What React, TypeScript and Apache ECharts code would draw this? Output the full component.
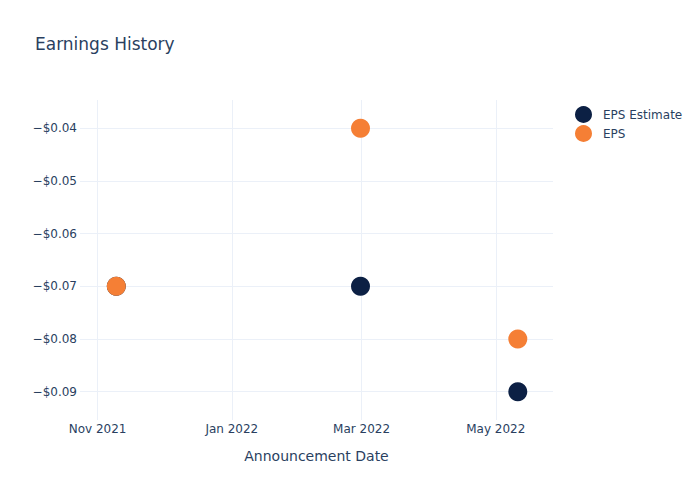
import React, { useEffect, useRef } from "react";
import * as echarts from "echarts";

const dates = ["2021-11-09T12:00", "2022-02-28T12:00", "2022-05-11T00:00"];
const epsEstimate = [-0.07, -0.07, -0.09];
const eps = [-0.07, -0.04, -0.08];
const xTickDates = ["2021-11-01T00:00", "2022-01-01T00:00", "2022-03-01T00:00", "2022-05-01T00:00"];
const xTickLabels = ["Nov 2021", "Jan 2022", "Mar 2022", "May 2022"];
const yTicks = [-0.09, -0.08, -0.07, -0.06, -0.05, -0.04];

const ts = (d: string) => Date.parse(d + ":00Z");
const FONT = "DejaVu Sans";
const TXT = "#2a3f5f";
const GRID = "#ebf0f8";

export default function App() {
  const ref = useRef<HTMLDivElement>(null);
  useEffect(() => {
    if (!ref.current) return;
    const chart = echarts.init(ref.current, undefined, { renderer: "svg" });
    const xTicks = xTickDates.map(ts);
    const labelMap: Record<number, string> = {};
    xTicks.forEach((t, i) => (labelMap[t] = xTickLabels[i]));
    chart.setOption({
      animation: false,
      backgroundColor: "#ffffff",
      textStyle: { fontFamily: FONT },
      title: {
        text: "Earnings History",
        left: 35,
        top: 35,
        padding: 0,
        textStyle: { fontFamily: FONT, fontSize: 17, fontWeight: "normal", color: TXT },
      },
      legend: {
        orient: "vertical",
        left: 575,
        top: 106,
        padding: 0,
        itemWidth: 17,
        itemHeight: 17,
        itemGap: 2,
        icon: "circle",
        textStyle: { fontFamily: FONT, fontSize: 12, color: TXT, padding: [0, 0, 0, 6] },
        data: ["EPS Estimate", "EPS"],
      },
      grid: { left: 80, right: 147, top: 100, bottom: 80, containLabel: false },
      xAxis: {
        type: "value",
        min: ts("2021-10-24T00:00"),
        max: ts("2022-05-27T00:00"),
        name: "Announcement Date",
        nameLocation: "middle",
        nameGap: 29,
        nameTextStyle: { fontFamily: FONT, fontSize: 14, color: TXT },
        axisLine: { show: false },
        axisTick: { show: false, customValues: xTicks },
        splitLine: { show: true, lineStyle: { color: GRID, width: 1 } },
        axisLabel: {
          customValues: xTicks,
          formatter: (v: number) => labelMap[v] ?? "",
          fontFamily: FONT,
          fontSize: 12,
          color: TXT,
          margin: 3,
          hideOverlap: false,
        },
      },
      yAxis: {
        type: "value",
        min: -0.09537,
        max: -0.03463,
        axisLine: { show: false },
        axisTick: { show: false, customValues: yTicks },
        splitLine: { show: true, lineStyle: { color: GRID, width: 1 } },
        axisLabel: {
          customValues: yTicks,
          formatter: (v: number) => "\u2212$" + Math.abs(v).toFixed(2),
          fontFamily: FONT,
          fontSize: 12,
          color: TXT,
          margin: 3,
        },
      },
      series: [
        {
          name: "EPS Estimate",
          type: "scatter",
          symbolSize: 19,
          itemStyle: { color: "#0c2044", opacity: 1 },
          data: dates.map((d, i) => [ts(d), epsEstimate[i]]),
        },
        {
          name: "EPS",
          type: "scatter",
          symbolSize: 19,
          itemStyle: { color: "#f57f35", opacity: 1 },
          data: dates.map((d, i) => [ts(d), eps[i]]),
        },
      ],
    });
    return () => chart.dispose();
  }, []);
  return (
    <div
      ref={ref}
      style={{ position: "absolute", left: 0, top: 0, width: 700, height: 500 }}
    />
  );
}
